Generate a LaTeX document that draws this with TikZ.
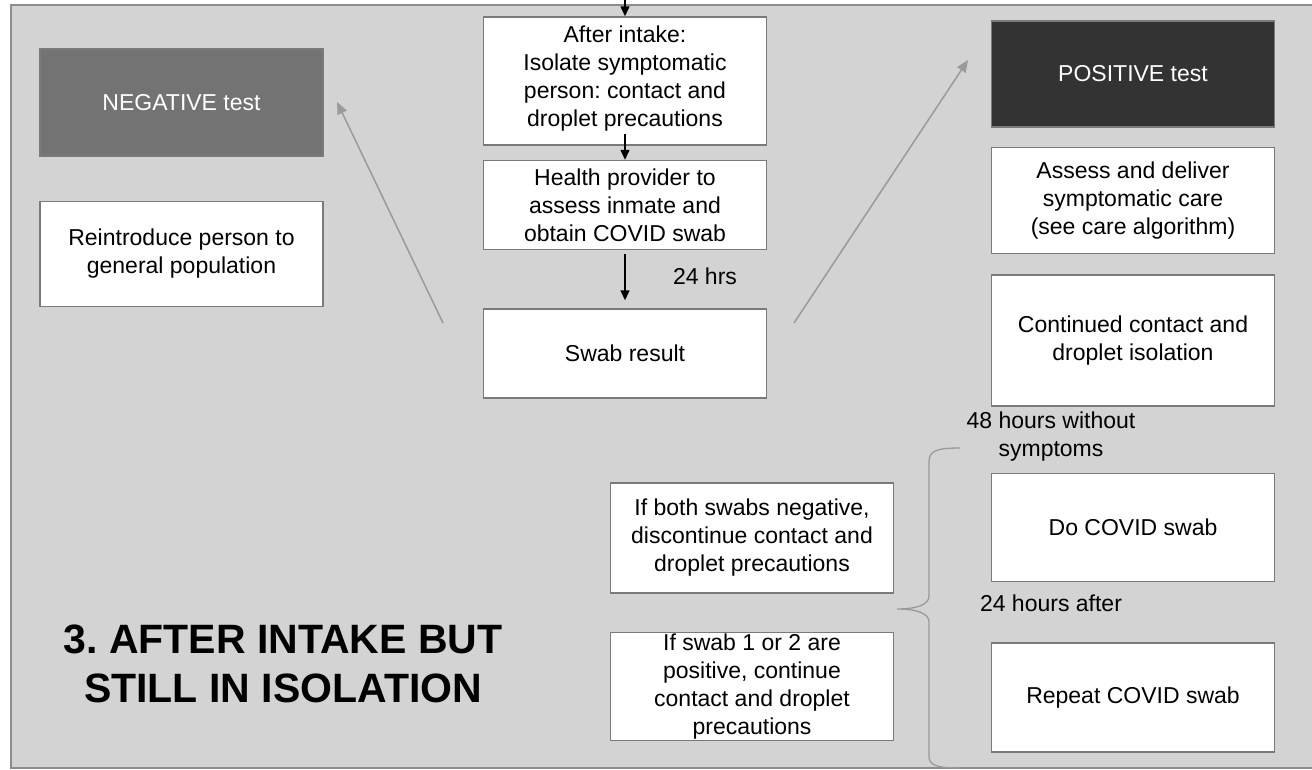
\documentclass[tikz,border=0pt]{standalone}
\usepackage{fontspec}
\setmainfont{Liberation Sans}
\usepackage{xcolor}
\usetikzlibrary{positioning, arrows.meta}
\definecolor{panelgray}{HTML}{D3D3D3}
\definecolor{framegray}{HTML}{8C8C8C}
\definecolor{edgegray}{HTML}{7A7A7A}
\definecolor{neggray}{HTML}{737373}
\definecolor{posgray}{HTML}{333333}
\definecolor{linkgray}{HTML}{9A9A9A}
\frenchspacing

\begin{document}
\begin{tikzpicture}[
	x=1pt, y=-1pt,
	box/.style={
		draw=edgegray,
		line width=1.5pt,
		fill=white,
		rectangle,
		minimum width=283pt,
		minimum height=106pt,
		inner sep=0pt,
		align=center,
		font=\fontsize{23}{28}\selectfont
	},
	lbl/.style={align=center, inner sep=0pt, font=\fontsize{23}{28}\selectfont},
	flow/.style={-{Triangle[length=10pt,width=9pt]}, line width=1.5pt},
	link/.style={-{Triangle[length=12pt,width=10pt]}, line width=1.5pt, linkgray}
	]
	
	\useasboundingbox (0,0) rectangle (1312,769);
	
	% Panel
	\draw[framegray, line width=1.5pt, fill=panelgray] (11,5) rectangle (1340,768);
	
	% Middle column
	\node[box, minimum height=128pt, text depth=10pt] (intake) at (625,81) {After intake:\\Isolate symptomatic\\person: contact and\\droplet precautions};
	\node[box, minimum height=89pt, below=14pt of intake] (provider) {Health provider to\\assess inmate and\\obtain COVID swab};
	\node[box, minimum height=89pt, below=58pt of provider] (swab) {Swab result};
	
	% Left column
	\node[box, fill=neggray, text=white, minimum height=107pt] (negative) at (181.5,102.5) {NEGATIVE test};
	\node[box, minimum height=105pt, below=44pt of negative] (reintro) {Reintroduce person to\\general population};
	
	% Right column
	\node[box, fill=posgray, text=white] (positive) at (1133,74) {POSITIVE test};
	\node[box, below=19pt of positive] (assess) {Assess and deliver\\symptomatic care\\(see care algorithm)};
	\node[box, minimum height=131pt, below=20pt of assess] (continued) {Continued contact and\\droplet isolation};
	\node[box, minimum height=108pt, below=66pt of continued] (doswab) {Do COVID swab};
	\node[box, minimum height=109pt, below=60pt of doswab] (repeat) {Repeat COVID swab};
	
	% Outcomes
	\node[box, minimum height=110pt] (bothneg) at (752,538) {If both swabs negative,\\discontinue contact and\\droplet precautions};
	\node[box, minimum height=108pt, below=38pt of bothneg] (eitherpos) {If swab 1 or 2 are\\positive, continue\\contact and droplet\\precautions};
	
	% Labels
	\node[lbl] (hrs) at (705,276) {24 hrs};
	\node[lbl] (nosymptoms) at (1051,437) {48 hours without\\symptoms};
	\node[lbl] (after) at (1051,603) {24 hours after};
	\node[align=center, inner sep=0pt, font=\fontsize{41}{49}\selectfont\bfseries] (title) at (283,664) {3. AFTER INTAKE BUT\\STILL IN ISOLATION};
	
	% Arrows
	\coordinate (entry) at (625,0);
	\draw[flow] (entry) -- (intake.north);
	\draw[flow, shorten <=-12pt] (intake) -- (provider);
	\draw[flow, shorten <=4pt, shorten >=8pt] (provider) -- (swab);
	
	\coordinate (negtail) at (443,323);
	\coordinate (negtip) at (337,102);
	\coordinate (postail) at (794,323);
	\coordinate (postip) at (968,60);
	\draw[link] (negtail) -- (negtip);
	\draw[link] (postail) -- (postip);
	
	% Brace
	\draw[linkgray, line width=1.3pt] (960,448) .. controls (936,448) and (929,451) .. (929,462) -- (929,596)
		.. controls (929,605) and (916,609) .. (897,609)
		.. controls (916,609) and (929,613) .. (929,622) -- (929,756)
		.. controls (929,765) and (936,768) .. (960,768);
	
\end{tikzpicture}
\end{document}
